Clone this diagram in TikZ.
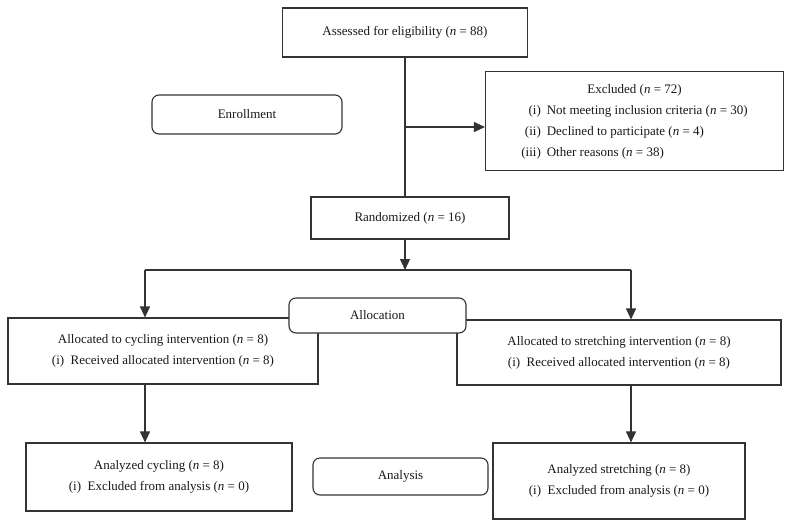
\documentclass[tikz,border=0pt]{standalone}
\usepackage{fontspec}
\setmainfont{Liberation Serif}
\usetikzlibrary{arrows.meta}
\newcommand{\nn}{\textit{n}}
\begin{document}
\begin{tikzpicture}[x=1pt,y=-1pt,
  every node/.style={font=\fontsize{13}{21}\selectfont, text=black!90},
  box/.style={draw=black!80, line width=1.1pt, fill=white, align=center, inner sep=0pt},
  rbox/.style={box, rounded corners=7pt},
  conn/.style={draw=black!80, line width=1.1pt},
  arr/.style={conn, -{Triangle[length=11pt,width=10pt]}}]
\useasboundingbox (0,0) rectangle (796,528);
% boxes
\node[box, minimum width=245pt, minimum height=49pt] (assess) at (405,32.5) {Assessed for eligibility (\nn{} = 88)};
\node[box, minimum width=298pt, minimum height=99pt] (excl) at (634.5,121) {%
\begin{tabular}{@{}r@{\hspace{6pt}}l@{}}
\multicolumn{2}{c}{Excluded (\nn{} = 72)}\\
(i) & Not meeting inclusion criteria (\nn{} = 30)\\
(ii) & Declined to participate (\nn{} = 4)\\
(iii) & Other reasons (\nn{} = 38)
\end{tabular}};
\node[rbox, minimum width=190pt, minimum height=39pt] (enroll) at (247,114.5) {Enrollment};
\node[box, minimum width=198pt, minimum height=42pt] (rand) at (410,218) {Randomized (\nn{} = 16)};
\node[box, minimum width=310pt, minimum height=66pt] (cyc) at (163,351) {\fontsize{13}{22}\selectfont Allocated to cycling intervention (\nn{} = 8)\\ (i)\enspace Received allocated intervention (\nn{} = 8)};
\node[box, minimum width=324pt, minimum height=65pt] (str) at (619,352.5) {\fontsize{13}{22}\selectfont Allocated to stretching intervention (\nn{} = 8)\\ (i)\enspace Received allocated intervention (\nn{} = 8)};
\node[rbox, minimum width=177pt, minimum height=35pt] (alloc) at (377.5,315.5) {Allocation};
\node[box, minimum width=266pt, minimum height=68pt] (anc) at (159,477) {\fontsize{13}{23}\selectfont Analyzed cycling (\nn{} = 8)\\ (i)\enspace Excluded from analysis (\nn{} = 0)};
\node[rbox, minimum width=175pt, minimum height=37pt] (analysis) at (400.5,476.5) {Analysis};
\node[box, minimum width=252pt, minimum height=76pt] (ans) at (619,481) {\fontsize{13}{23}\selectfont Analyzed stretching (\nn{} = 8)\\ (i)\enspace Excluded from analysis (\nn{} = 0)};
% connectors
\coordinate (j1) at (405,127);
\coordinate (hl) at (145,270);
\coordinate (hr) at (631,270);
\draw[conn] (assess.south) -- (assess.south |- rand.north);
\draw[arr] (j1) -- (excl.west |- j1);
\draw[arr] (assess.south |- rand.south) -- (assess.south |- hl);
\draw[conn] (hl) -- (hr);
\draw[arr] (hl) -- (hl |- cyc.north);
\draw[arr] (hr) -- (hr |- str.north);
\draw[arr] (hl |- cyc.south) -- (hl |- anc.north);
\draw[arr] (hr |- str.south) -- (hr |- ans.north);
\end{tikzpicture}
\end{document}
